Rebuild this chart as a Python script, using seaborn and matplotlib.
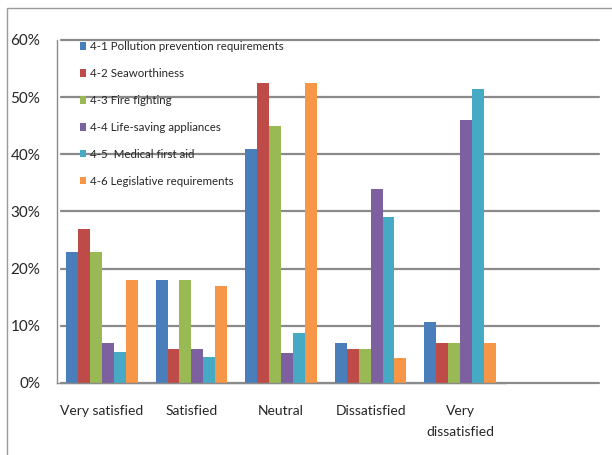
import matplotlib
matplotlib.use("Agg")
import matplotlib.pyplot as plt
import seaborn as sns
import pandas as pd
from matplotlib.ticker import PercentFormatter, FixedLocator
from matplotlib.patches import Rectangle

categories = ["Very satisfied", "Satisfied", "Neutral", "Dissatisfied", "Very\ndissatisfied"]
series = ["4-1 Pollution prevention requirements", "4-2 Seaworthiness", "4-3 Fire fighting",
          "4-4 Life-saving appliances", "4-5  Medical first aid", "4-6 Legislative requirements"]
s41 = [0.23, 0.18, 0.41, 0.07, 0.107]
s42 = [0.27, 0.06, 0.525, 0.06, 0.07]
s43 = [0.23, 0.18, 0.45, 0.06, 0.07]
s44 = [0.07, 0.06, 0.052, 0.34, 0.46]
s45 = [0.055, 0.045, 0.087, 0.29, 0.515]
s46 = [0.18, 0.17, 0.525, 0.044, 0.07]
values = [s41, s42, s43, s44, s45, s46]
colors = ["#4A7EBB", "#BE4B48", "#98B954", "#7D60A0", "#46AAC5", "#F79646"]

rows = []
for name, vals in zip(series, values):
    for c, v in zip(categories, vals):
        rows.append({"category": c, "series": name, "value": v})
df = pd.DataFrame(rows)

sns.set_style("white")
plt.rcParams["font.family"] = ["Lato", "DejaVu Sans"]

fig = plt.figure(figsize=(6.12, 4.55), dpi=100)
ax = fig.add_axes([57/612, 72/455, 448/612, 343/455])

sns.barplot(data=df, x="category", y="value", hue="series", order=categories,
            hue_order=series, palette=colors, width=0.8, ax=ax, saturation=1,
            edgecolor="none", linewidth=0)

ax.set_ylim(0, 0.6)
ax.set_xlim(-0.5, 4.5)
ax.yaxis.set_major_locator(FixedLocator([0, 0.1, 0.2, 0.3, 0.4, 0.5, 0.6]))
ax.yaxis.set_major_formatter(PercentFormatter(1.0, decimals=0))
for y in [0, 0.1, 0.2, 0.3, 0.4, 0.5, 0.6]:
    ax.axhline(y, xmin=0.01, xmax=1.21, color="#8a8a8a", lw=1.6, zorder=0, clip_on=False)

ax.set_xlabel("")
ax.set_ylabel("")
for s in ["top", "right"]:
    ax.spines[s].set_visible(False)
for s in ["left", "bottom"]:
    ax.spines[s].set_color("#8a8a8a")
    ax.spines[s].set_linewidth(1.0)
ax.tick_params(axis="y", labelsize=11, length=4, color="#8a8a8a", pad=8)
ax.tick_params(axis="x", labelsize=10, length=0, pad=16)
ax.set_xticks(range(5))
ax.set_xticklabels(categories, linespacing=1.9)
ax.set_xticks([-0.5, 0.5, 1.5, 2.5, 3.5, 4.5], minor=True)
ax.tick_params(axis="x", which="minor", length=7, color="#8a8a8a", direction="out")

leg = ax.legend(loc="upper left", bbox_to_anchor=(0.04, 1.01), frameon=False,
                fontsize=8.3, handlelength=0.6, handleheight=0.6, handletextpad=0.35,
                labelspacing=1.38, borderaxespad=0)

fig.patches.append(Rectangle((7/612, -0.1), 1.0, (455-8)/455 + 0.1, transform=fig.transFigure,
                             fill=False, edgecolor="#9a9a9a", lw=1.0))

fig.savefig("out.png", dpi=100)
